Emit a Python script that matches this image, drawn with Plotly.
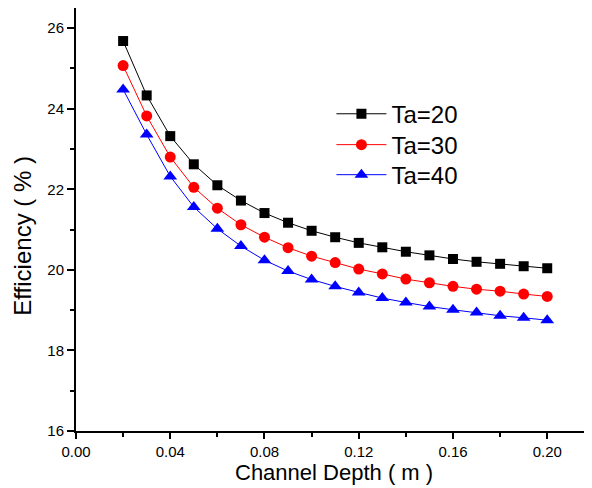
import plotly.graph_objects as go

depth = [0.02, 0.03, 0.04, 0.05, 0.06, 0.07, 0.08, 0.09, 0.10, 0.11,
         0.12, 0.13, 0.14, 0.15, 0.16, 0.17, 0.18, 0.19, 0.20]
ta20 = [25.68, 24.33, 23.32, 22.62, 22.10, 21.72, 21.41, 21.17, 20.97, 20.81,
        20.67, 20.56, 20.45, 20.36, 20.27, 20.20, 20.15, 20.09, 20.04]
ta30 = [25.07, 23.82, 22.80, 22.05, 21.53, 21.12, 20.81, 20.55, 20.34, 20.18,
        20.02, 19.90, 19.77, 19.68, 19.59, 19.52, 19.47, 19.40, 19.34]
ta40 = [24.48, 23.36, 22.32, 21.56, 21.02, 20.59, 20.24, 19.97, 19.76, 19.59,
        19.44, 19.30, 19.19, 19.09, 19.01, 18.94, 18.86, 18.81, 18.75]
names = ["Ta=20", "Ta=30", "Ta=40"]
x_ticks = [0.00, 0.04, 0.08, 0.12, 0.16, 0.20]
x_ticklabels = ["0.00", "0.04", "0.08", "0.12", "0.16", "0.20"]
y_ticks = [16, 18, 20, 22, 24, 26]
x_title = "Channel Depth ( m )"
y_title = "Efficiency ( % )"

FONT = "Arial, Liberation Sans, sans-serif"

fig = go.Figure()
styles = [("black", "square", 10), ("red", "circle", 11), ("blue", "triangle-up", 12)]
legend_ids = ["legend", "legend2", "legend3"]
legend_y = [0.749, 0.676, 0.605]
for ys, name, (col, sym, sz), lid in zip([ta20, ta30, ta40], names, styles, legend_ids):
    fig.add_trace(go.Scatter(
        x=depth, y=ys, name=name, mode="lines+markers", legend=lid,
        line=dict(color=col, width=1),
        marker=dict(color=col, symbol=sym, size=sz, line=dict(width=0)),
    ))

legend_common = dict(x=0.495, xanchor="left", yanchor="middle",
                     font=dict(size=24, family=FONT), bgcolor="rgba(0,0,0,0)",
                     itemwidth=50)

# page body has an 8px margin, so the figure is sized/offset accordingly
fig.update_layout(
    width=584, height=480,
    margin=dict(l=68, r=0, t=0, b=57),
    paper_bgcolor="white", plot_bgcolor="white",
    font=dict(family=FONT, color="black", size=15),
    showlegend=True,
    legend=dict(y=legend_y[0], **legend_common),
    legend2=dict(y=legend_y[1], **legend_common),
    legend3=dict(y=legend_y[2], **legend_common),
)
fig.update_xaxes(
    range=[0, 0.219], tickvals=x_ticks, ticktext=x_ticklabels,
    automargin=False,
    showline=True, linecolor="black", linewidth=2, mirror=False,
    ticks="outside", ticklen=6, tickwidth=2, tickcolor="black",
    minor=dict(dtick=0.02, ticks="outside", ticklen=4, tickwidth=2, tickcolor="black", showgrid=False),
    showgrid=False, zeroline=False,
    tickfont=dict(size=15),
)
fig.update_yaxes(
    range=[16, 26.5], tickvals=y_ticks,
    automargin=False,
    showline=True, linecolor="black", linewidth=2, mirror=False,
    ticks="outside", ticklen=7, tickwidth=2, tickcolor="black",
    minor=dict(dtick=1, ticks="outside", ticklen=4, tickwidth=2, tickcolor="black", showgrid=False),
    showgrid=False, zeroline=False,
    tickfont=dict(size=15),
)
fig.add_annotation(text=x_title, xref="paper", yref="paper", x=0.5, y=0,
                   xanchor="center", yanchor="top", yshift=-28, borderpad=0,
                   showarrow=False, font=dict(size=22))
fig.add_annotation(text=y_title, xref="paper", yref="paper", x=-0.1037, y=0.463,
                   xanchor="center", yanchor="middle", textangle=-90,
                   showarrow=False, font=dict(size=24))

fig.write_html("out.html")
